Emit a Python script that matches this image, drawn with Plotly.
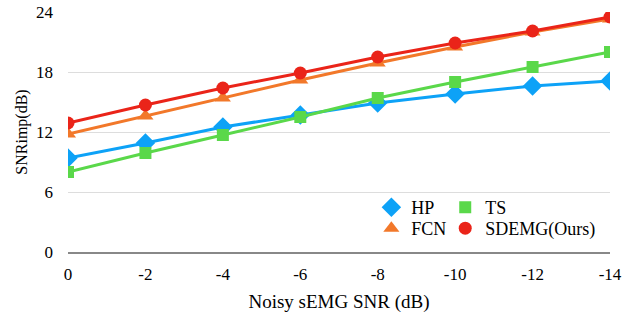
import plotly.graph_objects as go

categories = ["0", "-2", "-4", "-6", "-8", "-10", "-12", "-14"]
hp = [9.4, 10.9, 12.5, 13.7, 14.9, 15.8, 16.6, 17.1]
ts = [8.0, 9.9, 11.7, 13.5, 15.4, 17.0, 18.5, 20.0]
fcn = [11.8, 13.6, 15.4, 17.2, 18.9, 20.5, 22.0, 23.3]
sdemg = [12.9, 14.7, 16.4, 17.9, 19.5, 20.9, 22.1, 23.5]

series = [
    ("HP", hp, "#0DA2F7", "diamond", 15, "legend", 0.5597, 0.262),
    ("TS", ts, "#5AD84A", "square", 12, "legend2", 0.696, 0.262),
    ("FCN", fcn, "#F2782A", "triangle-up", 14, "legend3", 0.5597, 0.175),
    ("SDEMG(Ours)", sdemg, "#EA2419", "circle", 13, "legend4", 0.696, 0.175),
]

FONT = "Liberation Serif"
fig = go.Figure()
for name, vals, color, sym, size, lg, lx, ly in series:
    fig.add_trace(go.Scatter(
        x=categories, y=vals, mode="lines+markers", name=name,
        line=dict(color=color, width=3),
        marker=dict(symbol=sym, size=size, color=color),
        showlegend=False,
    ))
legends = {}
for name, vals, color, sym, size, lg, lx, ly in series:
    fig.add_trace(go.Scatter(
        x=[None], y=[None], mode="markers", name=name,
        marker=dict(symbol=sym, size=size, color=color),
        showlegend=True, legend=lg,
    ))
    legends[lg] = dict(
        x=lx, y=ly, orientation="v", yanchor="top", xanchor="left",
        font=dict(family=FONT, size=18, color="black"),
        bgcolor="rgba(0,0,0,0)",
    )

fig.update_layout(
    width=623, height=314,
    margin=dict(l=68, r=13, t=12, b=62, autoexpand=False),
    paper_bgcolor="white", plot_bgcolor="white",
    font=dict(family=FONT, size=17, color="black"),
    xaxis=dict(
        type="category", range=[0, 7], showgrid=False, zeroline=False,
        showline=True, linecolor="#888888", linewidth=1.5, automargin=False,
        ticks="", tickfont=dict(family=FONT, size=17), ticklabelstandoff=6,
        ticklabeloverflow="allow",
        title=dict(text="Noisy sEMG SNR (dB)", font=dict(family=FONT, size=19), standoff=12),
    ),
    yaxis=dict(
        range=[0, 24], tickvals=[0, 6, 12, 18, 24], showgrid=True,
        gridcolor="#DDDDDD", gridwidth=1, zeroline=False, automargin=False,
        ticks="", tickfont=dict(family=FONT, size=17), ticklabelstandoff=14,
        ticklabeloverflow="allow",
        title=dict(text="SNRimp(dB)", font=dict(family=FONT, size=16), standoff=4),
    ),
)
fig.update_layout(**legends)
# remove the default 8px page margin so the figure fills the window exactly
fig.write_html(
    "out.html",
    config={"displayModeBar": False},
    post_script="document.body.style.margin='0';",
)
